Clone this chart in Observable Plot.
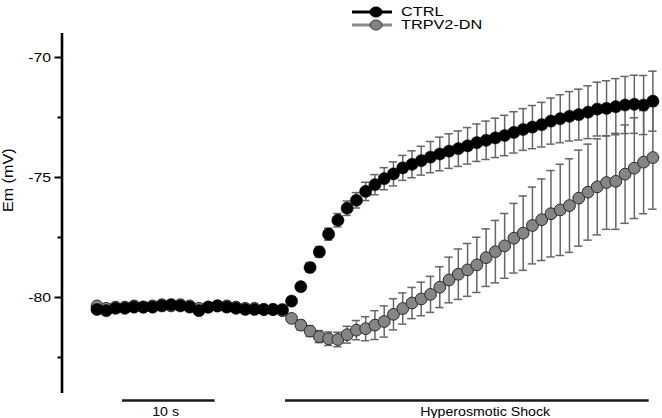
<!DOCTYPE html>
<html><head><meta charset="utf-8">
<script src="https://cdn.jsdelivr.net/npm/d3@7"></script>
<script src="https://cdn.jsdelivr.net/npm/@observablehq/plot@0.6"></script>
<style>
body{margin:0;background:#fff;font-family:"Liberation Sans",Arial,sans-serif;}
#wrap{width:662px;height:418px;position:relative;overflow:hidden;background:#fff}
#legend{position:absolute;left:0;top:0;width:662px;height:33px}
.item{position:absolute;left:352px;height:12px;display:flex;align-items:center}
.item svg{display:block}
.item span{font-size:13px;line-height:12px;height:12px;display:inline-block;transform:scaleX(1.25);transform-origin:left center;margin-left:9px;color:#000;white-space:nowrap}
#chart{position:absolute;left:0;top:33px}
</style></head><body>
<div id="wrap"><div id="legend"></div><div id="chart"></div></div>
<script>
// time (s), one sample per second
const times = [0,1,2,3,4,5,6,7,8,9,10,11,12,13,14,15,16,17,18,19,20,21,22,23,24,25,26,27,28,29,30,31,32,33,34,35,36,37,38,39,40,41,42,43,44,45,46,47,48,49,50,51,52,53,54,55,56,57,58,59,60];

const ctrlMean = [-80.5,-80.55,-80.45,-80.45,-80.4,-80.4,-80.4,-80.35,-80.3,-80.35,-80.4,-80.55,-80.4,-80.35,-80.4,-80.45,-80.5,-80.5,-80.5,-80.5,-80.5,
  -80.15,-79.55,-78.75,-78.1,-77.36,-76.78,-76.28,-75.95,-75.58,-75.3,
  -75.05,-74.85,-74.6,-74.45,-74.3,-74.15,-74.02,-73.9,-73.8,-73.68,
  -73.55,-73.45,-73.35,-73.25,-73.12,-73.0,-72.9,-72.8,-72.65,-72.55,
  -72.45,-72.38,-72.28,-72.15,-72.12,-72.05,-71.98,-71.95,-71.98,-71.82];
const ctrlSem = [0.1,0.1,0.1,0.1,0.1,0.1,0.1,0.1,0.1,0.1,0.1,0.1,0.1,0.1,0.1,0.1,0.1,0.1,0.1,0.1,0.1,
  0.1,0.15,0.2,0.22,0.25,0.28,0.3,0.32,0.38,0.42,
  0.46,0.5,0.52,0.56,0.6,0.65,0.7,0.72,0.74,0.76,
  0.78,0.8,0.82,0.84,0.86,0.87,0.9,0.93,0.96,1.0,
  1.03,1.06,1.1,1.12,1.15,1.17,1.19,1.21,1.23,1.25];

const dnMean = [-80.35,-80.45,-80.4,-80.4,-80.35,-80.4,-80.35,-80.3,-80.35,-80.3,-80.35,-80.45,-80.4,-80.35,-80.35,-80.4,-80.45,-80.45,-80.5,-80.5,-80.55,
  -80.87,-81.15,-81.4,-81.63,-81.72,-81.75,-81.55,-81.36,-81.3,-81.15,
  -81.0,-80.7,-80.46,-80.23,-80.06,-79.87,-79.57,-79.27,-79.03,-78.85,
  -78.64,-78.34,-78.09,-77.85,-77.53,-77.32,-77.0,-76.76,-76.51,-76.35,
  -76.17,-75.86,-75.61,-75.39,-75.21,-75.16,-74.86,-74.61,-74.36,-74.17];
const dnSem = [0.1,0.1,0.1,0.1,0.1,0.1,0.1,0.1,0.1,0.1,0.1,0.1,0.1,0.1,0.1,0.1,0.1,0.1,0.1,0.1,0.1,
  0.15,0.2,0.22,0.25,0.28,0.3,0.35,0.4,0.5,0.6,
  0.65,0.65,0.65,0.65,0.7,0.75,0.85,0.95,1.05,1.1,
  1.15,1.2,1.3,1.35,1.45,1.55,1.6,1.7,1.8,1.9,
  1.95,2.0,2.0,2.0,1.95,2.0,2.05,2.1,2.15,2.15];

const seriesNames = ["CTRL", "TRPV2-DN"];
const yTicks = [-70, -75, -80];
const yMinorTicks = [-72.5, -77.5, -82.5];
const barLabels = ["10 s", "Hyperosmotic Shock"];
const barStart = [2.75, 20.35];
const barEnd = [12.75, 59.6];
const barLabelAt = [7.4, 41.9];

const rows = times.map((t, i) => ({t, ctrl: ctrlMean[i], ctrlSem: ctrlSem[i], dn: dnMean[i], dnSem: dnSem[i]}));
const bars = barLabels.map((label, i) => ({label, start: barStart[i], end: barEnd[i], at: barLabelAt[i]}));

const xDomain = [-3.78, 61.04];
const yDomain = [-84, -69];
const cap = 0.45;
const barColor = "#666666";

function errMarks(key, semKey) {
  return [
    Plot.ruleX(rows, {x: "t", y1: d => d[key] - d[semKey], y2: d => d[key] + d[semKey], stroke: barColor, strokeWidth: 1.5}),
    Plot.ruleY(rows, {y: d => d[key] + d[semKey], x1: d => d.t - cap, x2: d => d.t + cap, stroke: barColor, strokeWidth: 1.5}),
    Plot.ruleY(rows, {y: d => d[key] - d[semKey], x1: d => d.t - cap, x2: d => d.t + cap, stroke: barColor, strokeWidth: 1.5})
  ];
}

const chart = Plot.plot({
  width: 662,
  height: 385,
  marginLeft: 61.5,
  marginRight: 0,
  marginTop: 0,
  marginBottom: 25,
  style: {fontFamily: "'Liberation Sans', Arial, sans-serif", fontSize: "13px", background: "#fff", overflow: "visible"},
  x: {domain: xDomain, axis: null},
  y: {domain: yDomain, axis: null},
  marks: [
    Plot.axisY({ticks: yTicks, tickSize: 7, tickPadding: 4, tickFormat: d => `${d}`, label: null, strokeWidth: 2, fontSize: 13.5, fill: "#000"}),
    Plot.axisY({ticks: yMinorTicks, tickSize: 4, tickFormat: () => "", label: null, strokeWidth: 2}),
    Plot.ruleX([xDomain[0]], {stroke: "#000", strokeWidth: 2.6}),
    Plot.text(["Em (mV)"], {frameAnchor: "left", rotate: -90, dx: -53, dy: -1.5, fontSize: 14, fill: "#000"}),
    ...errMarks("dn", "dnSem"),
    ...errMarks("ctrl", "ctrlSem"),
    Plot.dot(rows, {x: "t", y: "dn", r: 5.9, fill: "#858585", stroke: "#2a2a2a", strokeWidth: 1}),
    Plot.dot(rows, {x: "t", y: "ctrl", r: 6.1, fill: "#000", stroke: "#000", strokeWidth: 0.5}),
    Plot.ruleY(bars, {y: yDomain[0], x1: "start", x2: "end", dy: 7, stroke: "#1a1a1a", strokeWidth: 2.6}),
    Plot.text(bars, {x: "at", y: yDomain[0], dy: 18, text: "label", fontSize: 13.5, fill: "#000"})
  ]
});
document.getElementById("chart").appendChild(chart);

// widen glyphs a little, as in the reference figure
chart.querySelectorAll("g[aria-label='y-axis tick label'] text").forEach(el => {
  const w = el.getComputedTextLength();
  if (w > 0) { el.setAttribute("textLength", (w * 1.17).toFixed(1)); el.setAttribute("lengthAdjust", "spacingAndGlyphs"); }
});
chart.querySelectorAll("g[aria-label='text'] text").forEach(el => {
  const w = el.getComputedTextLength();
  const f = el.textContent === "Em (mV)" ? 1.15 : 1.05;
  el.setAttribute("textLength", (w * f).toFixed(1)); el.setAttribute("lengthAdjust", "spacingAndGlyphs");
});

// legend
const legend = document.getElementById("legend");
const legendStyles = [
  {line: "#000", fill: "#000", stroke: "#000"},
  {line: "#8a8a8a", fill: "#828282", stroke: "#3a3a3a"}
];
seriesNames.forEach((name, i) => {
  const s = legendStyles[i];
  const item = document.createElement("div");
  item.className = "item";
  item.style.top = (5.5 + i * 13.5) + "px";
  item.innerHTML = `<svg width="40" height="12"><line x1="0" x2="40" y1="6" y2="6" stroke="${s.line}" stroke-width="3"/><ellipse cx="24" cy="6" rx="6" ry="5" fill="${s.fill}" stroke="${s.stroke}" stroke-width="1"/></svg><span>${name}</span>`;
  legend.appendChild(item);
});
</script>
</body></html>
